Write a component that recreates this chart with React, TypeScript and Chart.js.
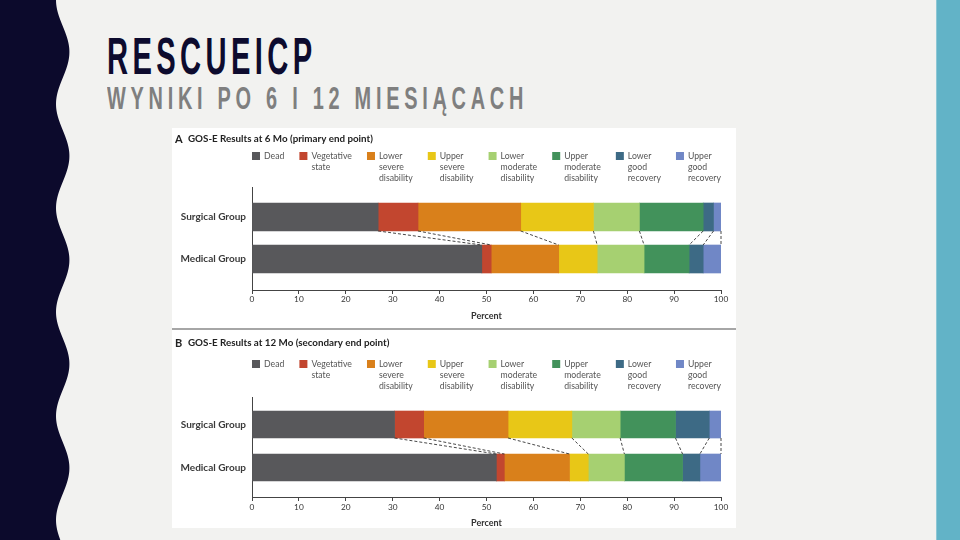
import React, { useEffect, useRef } from 'react';
import { Chart, registerables } from 'chart.js';

Chart.register(...registerables);

// ---------- data ----------
const groups = ['Surgical Group', 'Medical Group'];
const outcomeLabels = [
  'Dead',
  'Vegetative\nstate',
  'Lower\nsevere\ndisability',
  'Upper\nsevere\ndisability',
  'Lower\nmoderate\ndisability',
  'Upper\nmoderate\ndisability',
  'Lower\ngood\nrecovery',
  'Upper\ngood\nrecovery',
];
const outcomeColors = ['#58585b', '#c2462f', '#d9801b', '#e8c717', '#a6d071', '#42925b', '#3d6a85', '#7087c6'];

const surgical6 = [26.9, 8.5, 21.9, 15.5, 9.8, 13.6, 2.2, 1.6];
const medical6 = [49.0, 2.0, 14.4, 8.2, 10.0, 9.6, 3.0, 3.8];
const surgical12 = [30.4, 6.2, 18.0, 13.6, 10.3, 11.8, 7.2, 2.5];
const medical12 = [52.1, 1.7, 13.9, 4.0, 7.7, 12.4, 3.7, 4.5];

const percentMin = 0;
const percentMax = 100;
const percentStep = 10;

// ---------- plugins ----------
const connectorPlugin = {
  id: 'connectors',
  afterDatasetsDraw(chart: any) {
    const { ctx } = chart;
    ctx.save();
    ctx.setLineDash([3, 2]);
    ctx.strokeStyle = '#333';
    ctx.lineWidth = 0.9;
    chart.data.datasets.forEach((_: any, i: number) => {
      const meta = chart.getDatasetMeta(i);
      const s = meta.data[0] as any;
      const m = meta.data[1] as any;
      if (!s || !m) return;
      ctx.beginPath();
      ctx.moveTo(s.x, s.y + s.height / 2);
      ctx.lineTo(m.x, m.y - m.height / 2);
      ctx.stroke();
    });
    ctx.restore();
  },
};

const decorPlugin = {
  id: 'panelDecor',
  afterDraw(chart: any, _args: any, opts: any) {
    const { ctx, chartArea } = chart;
    ctx.save();
    ctx.textBaseline = 'middle';
    ctx.textAlign = 'left';
    ctx.fillStyle = '#222';
    ctx.font = 'bold 11px Lato';
    ctx.fillText(opts.letter, 3, opts.titleY);
    ctx.font = 'bold 9.8px Lato';
    ctx.fillText(opts.title, 16, opts.titleY);

    ctx.font = '8.7px Lato';
    const box = 8;
    const gap = 4;
    const items = chart.data.datasets.map((ds: any) => ({
      lines: String(ds.label).split('\n'),
      color: ds.backgroundColor,
    }));
    const widths = items.map(
      (it: any) => box + gap + Math.max(...it.lines.map((l: string) => ctx.measureText(l).width))
    );
    const total = widths.reduce((a: number, b: number) => a + b, 0);
    const space = (chartArea.right - chartArea.left - total) / (items.length - 1);
    let x = chartArea.left;
    items.forEach((it: any, i: number) => {
      ctx.fillStyle = it.color;
      ctx.fillRect(x, opts.legendY - box / 2, box, box);
      ctx.fillStyle = '#555';
      it.lines.forEach((l: string, j: number) => ctx.fillText(l, x + box + gap, opts.legendY + j * 11.3));
      x += widths[i] + space;
    });
    ctx.restore();
  },
};

type Panel = {
  letter: string;
  title: string;
  surgical: number[];
  medical: number[];
  yMin: number;
  yMax: number;
  top: number;
  xHeight: number;
  barThickness: number;
  legendY: number;
  titleY: number;
  percentPad: number;
  tickPad: number;
};

const panelA: Panel = {
  letter: 'A',
  title: 'GOS-E Results at 6 Mo (primary end point)',
  surgical: surgical6,
  medical: medical6,
  yMin: -0.714,
  yMax: 1.738,
  top: 59,
  xHeight: 38,
  barThickness: 28,
  legendY: 28,
  titleY: 11,
  percentPad: 7,
  tickPad: 0,
};

const panelB: Panel = {
  letter: 'B',
  title: 'GOS-E Results at 12 Mo (secondary end point)',
  surgical: surgical12,
  medical: medical12,
  yMin: -0.64,
  yMax: 1.686,
  top: 67,
  xHeight: 31,
  barThickness: 27,
  legendY: 34,
  titleY: 13,
  percentPad: 0,
  tickPad: 1,
};

function buildConfig(p: Panel): any {
  const datasets = outcomeLabels.map((label, i) => ({
    label,
    data: [
      { x: p.surgical[i], y: 0 },
      { x: p.medical[i], y: 1 },
    ],
    backgroundColor: outcomeColors[i],
    borderWidth: 0,
    barThickness: p.barThickness,
  }));
  return {
    type: 'bar',
    data: { datasets },
    plugins: [connectorPlugin, decorPlugin],
    options: {
      indexAxis: 'y',
      responsive: false,
      maintainAspectRatio: false,
      animation: false,
      layout: { padding: { top: p.top, right: 15, left: 0, bottom: 0 } },
      plugins: {
        legend: { display: false },
        title: { display: false },
        tooltip: { enabled: false },
        panelDecor: { letter: p.letter, title: p.title, legendY: p.legendY, titleY: p.titleY },
      },
      scales: {
        x: {
          type: 'linear',
          stacked: true,
          min: percentMin,
          max: percentMax,
          afterFit: (s: any) => {
            s.height = p.xHeight;
          },
          ticks: {
            stepSize: percentStep,
            padding: p.tickPad,
            color: '#333',
            font: { family: 'Lato', size: 8.3 },
            maxRotation: 0,
          },
          grid: { drawOnChartArea: false, drawTicks: true, tickLength: 4, color: '#444' },
          border: { display: true, color: '#444', width: 1 },
          title: {
            display: true,
            text: 'Percent',
            color: '#333',
            font: { family: 'Lato', size: 9, weight: 'bold' },
            padding: { top: 0, bottom: p.percentPad },
          },
        },
        y: {
          type: 'linear',
          stacked: true,
          reverse: true,
          offset: false,
          min: p.yMin,
          max: p.yMax,
          afterFit: (s: any) => {
            s.width = 80;
          },
          afterBuildTicks: (s: any) => {
            s.ticks = groups.map((_, i) => ({ value: i }));
          },
          ticks: {
            padding: 6,
            color: '#3a3a3a',
            font: { family: 'Lato', size: 10, weight: 'bold' },
            callback: (v: any) => groups[v as number] ?? '',
          },
          grid: { display: false, drawTicks: false, offset: false },
          border: { display: true, color: '#444', width: 1 },
        },
      },
    },
  };
}

function wavePath(): string {
  const pts: string[] = ['M0,0'];
  for (let y = 0; y <= 540; y += 2) {
    const x = 62.7 - 6.7 * Math.cos((2 * Math.PI * y) / 104);
    pts.push(`L${x.toFixed(2)},${y}`);
  }
  pts.push('L0,540 Z');
  return pts.join(' ');
}

export default function App() {
  const refA = useRef<HTMLCanvasElement>(null);
  const refB = useRef<HTMLCanvasElement>(null);

  useEffect(() => {
    document.body.style.margin = '0';
    const a = new Chart(refA.current as HTMLCanvasElement, buildConfig(panelA));
    const b = new Chart(refB.current as HTMLCanvasElement, buildConfig(panelB));
    return () => {
      a.destroy();
      b.destroy();
    };
  }, []);

  return (
    <div
      style={{
        position: 'fixed',
        left: 0,
        top: 0,
        width: 960,
        height: 540,
        background: '#f2f2f0',
        overflow: 'hidden',
      }}
    >
      <svg width={80} height={540} style={{ position: 'absolute', left: 0, top: 0 }}>
        <path d={wavePath()} fill="#0c0a2c" />
      </svg>
      <div style={{ position: 'absolute', left: 936, top: 0, width: 1, height: 540, background: '#8ec7d5' }} />
      <div style={{ position: 'absolute', left: 937, top: 0, width: 23, height: 540, background: '#62b3c7' }} />

      <div
        style={{
          position: 'absolute',
          left: 107,
          top: 43.5,
          fontFamily: '"Liberation Sans", Arial, sans-serif',
          fontWeight: 700,
          fontSize: 36,
          lineHeight: '36px',
          letterSpacing: 5.4,
          color: '#0d0b2e',
          whiteSpace: 'nowrap',
          transform: 'scale(0.81, 1.435)',
          transformOrigin: '0 30.5px',
        }}
      >
        RESCUEICP
      </div>
      <div
        style={{
          position: 'absolute',
          left: 107,
          top: 88.7,
          fontFamily: '"Liberation Sans", Arial, sans-serif',
          fontWeight: 700,
          fontSize: 24,
          lineHeight: '24px',
          letterSpacing: 5.7,
          color: '#7f7f7f',
          whiteSpace: 'nowrap',
          transform: 'scale(0.83, 1.28)',
          transformOrigin: '0 20.3px',
        }}
      >
        WYNIKI PO 6 I 12 MIESIĄCACH
      </div>

      <div style={{ position: 'absolute', left: 172, top: 128, width: 564, height: 400, background: '#ffffff' }} />
      <canvas
        ref={refA}
        width={564}
        height={200}
        style={{ position: 'absolute', left: 172, top: 128, width: 564, height: 200 }}
      />
      <div style={{ position: 'absolute', left: 172, top: 328, width: 564, height: 2, background: '#a6a6a6' }} />
      <canvas
        ref={refB}
        width={564}
        height={198}
        style={{ position: 'absolute', left: 172, top: 330, width: 564, height: 198 }}
      />
    </div>
  );
}
